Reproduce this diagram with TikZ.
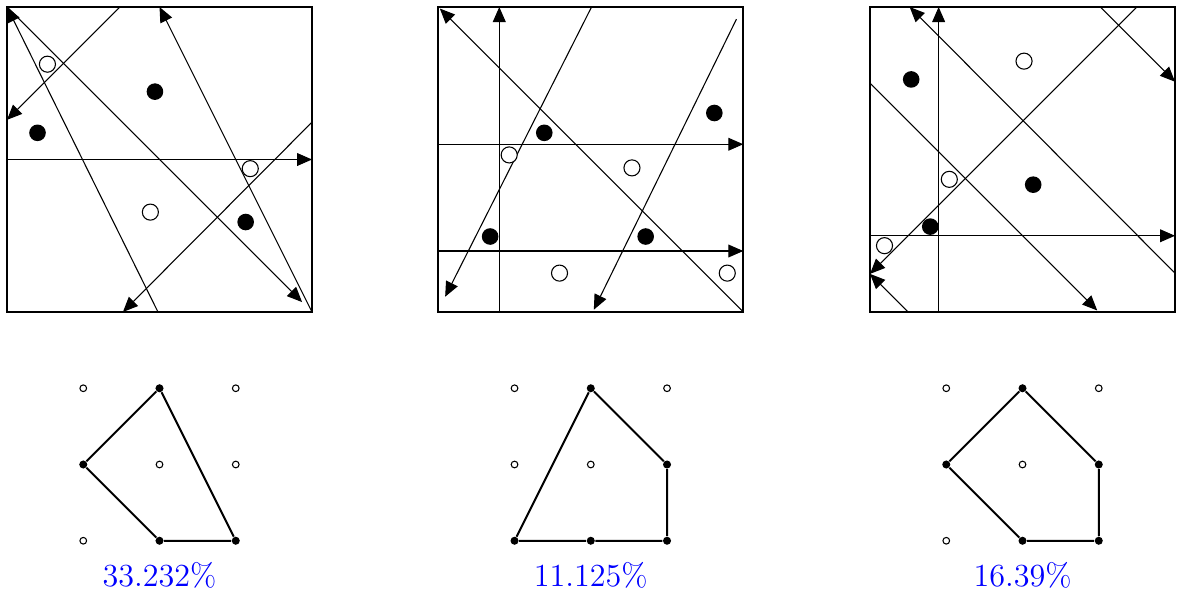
\documentclass[tikz,border=0pt]{standalone}
\usetikzlibrary{arrows.meta}
\tikzset{
  cut/.style={line width=0.4pt, -{Triangle[length=5.6pt,width=4.8pt]}},
  frame/.style={line width=0.9pt},
  hit/.style={circle, fill, inner sep=0pt, minimum size=6.2pt},
  miss/.style={circle, draw, fill=white, line width=0.4pt, inner sep=0pt, minimum size=6pt},
  vert/.style={circle, fill, inner sep=0pt, minimum size=3pt},
  free/.style={circle, draw, line width=0.4pt, inner sep=0pt, minimum size=2.5pt},
  hull/.style={line width=0.75pt},
  pct/.style={text=blue, font=\large, anchor=base}
}
\begin{document}
\begin{tikzpicture}
\useasboundingbox (-0.092,-3.738) rectangle (15.344,4.092);

\begin{scope}
\draw[cut] (1.48,4) -- (0,2.52);
\draw[cut] (4,0) -- (2.0,4);
\draw[cut] (0,2) -- (4,2);
\draw[cut] (4,2.49) -- (1.52,0);
\draw[cut] (0,4) -- (3.87,0.13);
\draw[cut] (1.98,0) -- (0,4);
\draw[frame] (0,0) rectangle (4,4);
\node[miss] (a1) at (0.53,3.25) {};
\node[hit] (a2) at (1.94,2.89) {};
\node[hit] (a3) at (0.40,2.35) {};
\node[miss] (a4) at (3.19,1.88) {};
\node[miss] (a5) at (1.88,1.31) {};
\node[hit] (a6) at (3.13,1.18) {};
\node[free] (ga1) at (1,-1) {};
\node[free] (ga2) at (3,-1) {};
\node[free] (ga3) at (2,-2) {};
\node[free] (ga4) at (3,-2) {};
\node[free] (ga5) at (1,-3) {};
\node[vert] (va1) at (2,-1) {};
\node[vert] (va2) at (1,-2) {};
\node[vert] (va3) at (2,-3) {};
\node[vert] (va4) at (3,-3) {};
\draw[hull] (va1) -- (va2) -- (va3) -- (va4) -- (va1);
\node[pct] (ra) at (2,-3.6) {33.232\%};
\end{scope}

\begin{scope}[xshift=5.656cm]
\draw[cut] (4,0) -- (0.02,3.98);
\draw[cut] (0.8,0) -- (0.8,4);
\draw[cut] (2.01,4) -- (0.09,0.2);
\draw[cut] (0,2.2) -- (4,2.2);
\draw[cut] (0,0.8) -- (4,0.8);
\draw[cut] (3.91,3.84) -- (2.04,0.03);
\draw[frame] (0,0) rectangle (4,4);
\node[hit] (b1) at (1.39,2.35) {};
\node[hit] (b2) at (3.62,2.61) {};
\node[miss] (b3) at (0.93,2.06) {};
\node[miss] (b4) at (2.54,1.89) {};
\node[hit] (b5) at (0.68,0.99) {};
\node[hit] (b6) at (2.72,0.99) {};
\node[miss] (b7) at (1.59,0.51) {};
\node[miss] (b8) at (3.79,0.51) {};
\node[free] (gb1) at (1,-1) {};
\node[free] (gb2) at (3,-1) {};
\node[free] (gb3) at (1,-2) {};
\node[free] (gb4) at (2,-2) {};
\node[vert] (vb1) at (2,-1) {};
\node[vert] (vb2) at (3,-2) {};
\node[vert] (vb3) at (3,-3) {};
\node[vert] (vb4) at (2,-3) {};
\node[vert] (vb5) at (1,-3) {};
\draw[hull] (vb1) -- (vb2) -- (vb3) -- (vb4) -- (vb5) -- (vb1);
\node[pct] (rb) at (2,-3.6) {11.125\%};
\end{scope}

\begin{scope}[xshift=11.318cm]
\draw[cut] (0.9,0) -- (0.9,4);
\draw[cut] (4,0.51) -- (0.52,4);
\draw[cut] (3.02,4) -- (4,3.02);
\draw[cut] (3.5,4) -- (0,0.5);
\draw[cut] (0.5,0) -- (0,0.5);
\draw[cut] (0,3) -- (2.98,0.02);
\draw[cut] (0,1) -- (4,1);
\draw[frame] (0,0) rectangle (4,4);
\node[hit] (c1) at (0.54,3.05) {};
\node[miss] (c2) at (2.02,3.29) {};
\node[miss] (c3) at (1.04,1.74) {};
\node[hit] (c4) at (2.14,1.67) {};
\node[hit] (c5) at (0.79,1.12) {};
\node[miss] (c6) at (0.19,0.87) {};
\node[free] (gc1) at (1,-1) {};
\node[free] (gc2) at (3,-1) {};
\node[free] (gc3) at (2,-2) {};
\node[free] (gc4) at (1,-3) {};
\node[vert] (vc1) at (2,-1) {};
\node[vert] (vc2) at (3,-2) {};
\node[vert] (vc3) at (3,-3) {};
\node[vert] (vc4) at (2,-3) {};
\node[vert] (vc5) at (1,-2) {};
\draw[hull] (vc1) -- (vc2) -- (vc3) -- (vc4) -- (vc5) -- (vc1);
\node[pct] (rc) at (2,-3.6) {16.39\%};
\end{scope}
\end{tikzpicture}
\end{document}
